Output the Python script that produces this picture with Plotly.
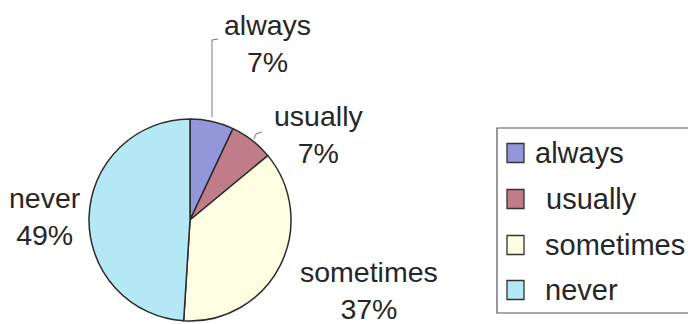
import plotly.graph_objects as go

# ---- data ----
categories = ["always", "usually", "sometimes", "never"]
values = [7, 7, 37, 49]

# ---- style ----
colors = ["#9397da", "#c07c89", "#fdfde2", "#b3e8f4"]
W, H = 688, 324
FONT = "Liberation Sans, Arial, sans-serif"
TXT = "#262626"

# label block centres in pixels (layout only)
label_pos = {
    "always": (267, 43),
    "usually": (318, 134),
    "sometimes": (369, 290),
    "never": (45, 216),
}

# legend layout (pixels)
leg_box = (497, 128, 700, 313)
leg_rows_y = [153, 199, 245, 290]
leg_swatch_x = (507, 524)
leg_text_x = [535, 546, 545, 545]

def px(x, y):
    return x / W, 1 - y / H

total = sum(values)
pcts = [round(v * 100 / total) for v in values]

# pie placement (pixels)
cx, cy, r = 190, 220, 101

fig = go.Figure(go.Pie(
    labels=categories,
    values=values,
    sort=False,
    direction="clockwise",
    rotation=0,
    marker=dict(colors=colors, line=dict(color="#2b2b2b", width=1.5)),
    textinfo="none",
    hoverinfo="label+percent",
    showlegend=False,
    domain=dict(x=[(cx - r) / W, (cx + r) / W], y=[(H - cy - r) / H, (H - cy + r) / H]),
))

annotations = []
for cat, p in zip(categories, pcts):
    x, y = px(*label_pos[cat])
    annotations.append(dict(
        x=x, y=y, xref="paper", yref="paper", xanchor="center", yanchor="middle",
        text=f"{cat}<br>{p}%", showarrow=False, align="center",
        font=dict(family=FONT, size=28.5, color=TXT),
    ))

def pathpx(points):
    s = ""
    for i, (x, y) in enumerate(points):
        X, Y = px(x, y)
        s += ("M" if i == 0 else "L") + f"{X},{Y} "
    return s.strip()

shapes = [
    dict(type="path", xref="paper", yref="paper",
         path=pathpx([(212, 117), (212, 40), (218, 39)]),
         line=dict(color="#7a7a7a", width=1)),
    dict(type="path", xref="paper", yref="paper",
         path=pathpx([(254, 139), (256, 134), (262, 132)]),
         line=dict(color="#7a7a7a", width=1)),
]

# legend box
x0, y0 = px(leg_box[0], leg_box[1])
x1, y1 = px(leg_box[2], leg_box[3])
shapes.append(dict(type="rect", xref="paper", yref="paper", x0=x0, y0=y1, x1=x1, y1=y0,
                   line=dict(color="#555555", width=1.2), fillcolor="rgba(0,0,0,0)"))

# legend entries built from the data categories/colours
for cat, col, ry, tx in zip(categories, colors, leg_rows_y, leg_text_x):
    sx0, sy0 = px(leg_swatch_x[0], ry - 9.5)
    sx1, sy1 = px(leg_swatch_x[1], ry + 9.5)
    shapes.append(dict(type="rect", xref="paper", yref="paper", x0=sx0, y0=sy1, x1=sx1, y1=sy0,
                       line=dict(color="#333333", width=1.3), fillcolor=col))
    tX, tY = px(tx, ry)
    annotations.append(dict(
        x=tX, y=tY, xref="paper", yref="paper", xanchor="left", yanchor="middle",
        text=cat, showarrow=False, font=dict(family=FONT, size=29, color=TXT),
        xshift=-2,
    ))

fig.update_layout(
    width=W, height=H,
    margin=dict(l=0, r=0, t=0, b=0),
    paper_bgcolor="white", plot_bgcolor="white",
    showlegend=False,
    annotations=annotations,
    shapes=shapes,
)

fig.write_html("out.html")
